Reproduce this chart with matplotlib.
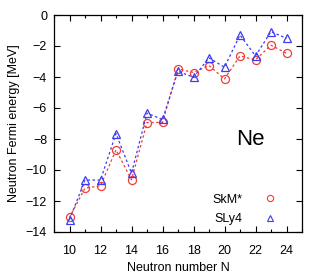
import numpy as np
import matplotlib
matplotlib.use('Agg')
import matplotlib.pyplot as plt
from matplotlib.lines import Line2D
from matplotlib.ticker import MultipleLocator

plt.rcParams['font.family'] = ['Liberation Sans', 'DejaVu Sans']

neutrons = [10, 11, 12, 13, 14, 15, 16, 17, 18, 19, 20, 21, 22, 23, 24]
skm = [-13.05, -11.17, -11.02, -8.70, -10.63, -6.94, -6.93, -3.48, -3.71,
       -3.26, -4.12, -2.64, -2.90, -1.95, -2.47]
sly4 = [-13.20, -10.65, -10.65, -7.65, -10.20, -6.33, -6.74, -3.63, -4.02,
        -2.77, -3.37, -1.29, -2.64, -1.07, -1.50]

RED = '#f03c3c'
BLUE = '#3c3cf0'

fig = plt.figure(figsize=(3.25, 2.73), dpi=100)
ax = fig.add_axes([54 / 325, 1 - 232 / 273, 248 / 325, 217 / 273])

ax.plot(neutrons, skm, color=RED, ls=(0, (2, 2)), lw=0.9, marker='o',
        ms=5.8, mfc='none', mec=RED, mew=0.9)
ax.plot(neutrons, sly4, color=BLUE, ls=(0, (2, 2)), lw=0.9, marker='^',
        ms=5.8, mfc='none', mec=BLUE, mew=0.9)

ax.set_xlim(9, 25)
ax.set_ylim(-14, 0)
ax.xaxis.set_major_locator(MultipleLocator(2))
ax.xaxis.set_minor_locator(MultipleLocator(1))
ax.yaxis.set_major_locator(MultipleLocator(2))
ax.tick_params(which='both', direction='in', top=True, right=True, labelsize=9)
ax.tick_params(which='major', length=4, width=0.8)
ax.tick_params(which='minor', length=2, width=0.8)
ax.tick_params(axis='x', pad=9)
ax.tick_params(axis='y', pad=5)
for s in ax.spines.values():
    s.set_linewidth(0.9)

ax.set_xlabel('Neutron number N', fontsize=9, labelpad=4)
ax.set_ylabel('Neutron Fermi energy [MeV]', fontsize=9, labelpad=4)

ax.text(21.7, -8.05, 'Ne', fontsize=16, ha='center', va='center')

handles = [Line2D([], [], ls='none', marker='o', ms=4.5, mfc='none', mec=RED, mew=0.8),
           Line2D([], [], ls='none', marker='^', ms=4.5, mfc='none', mec=BLUE, mew=0.8)]
ax.legend(handles, ['SkM*', 'SLy4'], loc='lower right', bbox_to_anchor=(0.955, -0.02),
          frameon=False, markerfirst=False, fontsize=9, handletextpad=1.45,
          labelspacing=0.6, handlelength=1.5)

fig.savefig('out.png', dpi=100)
